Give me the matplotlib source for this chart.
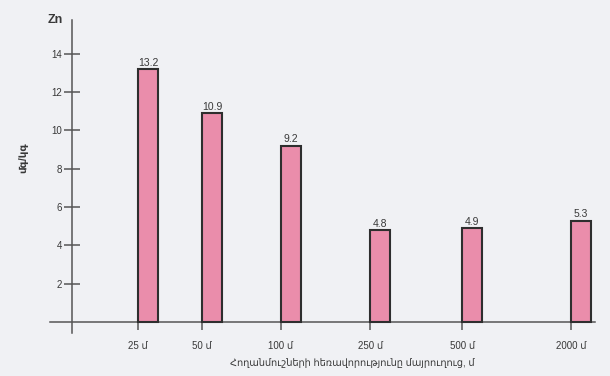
import matplotlib.pyplot as plt

# Zn content in soil samples vs distance from the highway
distances = ["25 մ", "50 մ", "100 մ", "250 մ", "500 մ", "2000 մ"]
zn_values = [13.2, 10.9, 9.2, 4.8, 4.9, 5.3]
y_ticks = [2, 4, 6, 8, 10, 12, 14]

# layout: x positions of the distance ticks (axis units), uneven as on the page
tick_pos = [88, 152, 231, 320, 412, 521]
bar_w = 20
yaxis_x = 22

fonts = ['Liberation Sans', 'DejaVu Sans']
plt.rcParams['font.family'] = fonts

bg = '#f0f1f4'
ink = '#383838'

fig = plt.figure(figsize=(6.1, 3.76), dpi=100, facecolor=bg)
ax = fig.add_axes([50 / 610, 43 / 376, 545 / 610, 313 / 376])
ax.set_facecolor(bg)

ax.bar(tick_pos, zn_values, width=bar_w, align='edge',
       color='#ea8dab', edgecolor='#2e2e2e', linewidth=1.5, zorder=3)

for x, v in zip(tick_pos, zn_values):
    ax.text(x + bar_w / 2, v + 0.08, f"{v}", ha='center', va='bottom',
            fontsize=7.5, color=ink, zorder=4)

ax.set_xlim(0, 545)
ax.set_ylim(-0.574, 15.77)

for s in ['top', 'right']:
    ax.spines[s].set_visible(False)
ax.spines['left'].set_position(('data', yaxis_x))
ax.spines['bottom'].set_position(('data', 0))
for s in ['left', 'bottom']:
    ax.spines[s].set_color('#555555')
    ax.spines[s].set_linewidth(1.1)

ax.set_yticks(y_ticks)
ax.set_yticklabels([str(t) for t in y_ticks])
ax.tick_params(axis='y', direction='inout', length=12, width=1.1,
               color='#555555', labelsize=7, labelcolor=ink, pad=1)

ax.set_xticks(tick_pos)
ax.set_xticklabels(distances)
ax.tick_params(axis='x', direction='out', length=6, width=1.1,
               color='#555555', labelsize=7, labelcolor=ink, pad=8)

ax.text(-0.005, 1.0, "Zn", transform=ax.transAxes, fontsize=9,
        fontweight='bold', color=ink, ha='left', va='center')

fig.text(0.038, 0.58, "մգ/կգ", rotation=90, fontsize=7.5, color=ink,
         fontweight='bold', ha='center', va='center')
fig.text(0.578, 0.035, "Հողանմուշների հեռավորությունը մայրուղուց, մ",
         fontsize=7, color=ink, ha='center', va='center')

fig.savefig("out.png", dpi=100, facecolor=bg)
